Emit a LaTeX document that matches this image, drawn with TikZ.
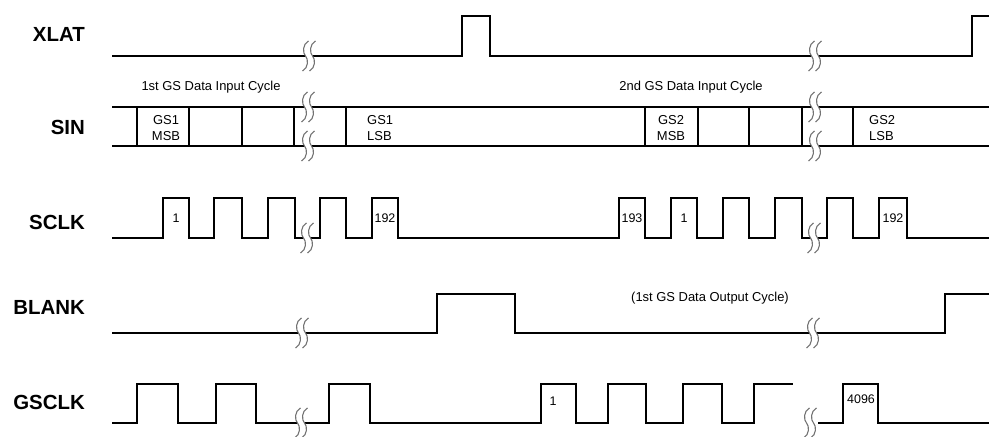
\documentclass[tikz,border=0pt]{standalone}
\usepackage{fontspec}
\setmainfont{Liberation Sans}

\begin{document}
\begin{tikzpicture}[
    x=1bp, y=-1bp,
    signame/.style={anchor=east, inner sep=0pt, font=\fontsize{20.5}{24}\selectfont\bfseries},
    note/.style={inner sep=0pt, font=\fontsize{13}{15}\selectfont},
    bits/.style={inner sep=0pt, font=\fontsize{13}{16}\selectfont, align=center},
    count/.style={inner sep=0pt, font=\fontsize{12.5}{14}\selectfont},
    wave/.style={line width=2.6bp, line join=miter},
    brk/.pic={
      \fill[white] (-0.5,-15) .. controls (-6.5,-12) and (-6.5,-3) .. (-3.5,0)
          .. controls (-0.5,3) and (-0.5,12) .. (-6.5,15) -- (0.5,15)
          .. controls (6.5,12) and (6.5,3) .. (3.5,0)
          .. controls (0.5,-3) and (0.5,-12) .. (6.5,-15) -- cycle;
      \draw[line width=1.1bp, black!55] (-0.5,-15) .. controls (-6.5,-12) and (-6.5,-3) .. (-3.5,0)
          .. controls (-0.5,3) and (-0.5,12) .. (-6.5,15);
      \draw[line width=1.1bp, black!55] (6.5,-15) .. controls (0.5,-12) and (0.5,-3) .. (3.5,0)
          .. controls (6.5,3) and (6.5,12) .. (0.5,15);
    }
  ]
    \useasboundingbox (0,0) rectangle (989,437);

    % signal names
    \node[signame] (xlat) at (85,34) {XLAT};
    \node[signame] (sin) at (85,127) {SIN};
    \node[signame] (sclk) at (85,222) {SCLK};
    \node[signame] (blank) at (85,307) {BLANK};
    \node[signame] (gsclk) at (85,402) {GSCLK};

    % XLAT
    \draw[wave] (112,56) -- (462,56) -- (462,16) -- (490,16) -- (490,56) -- (972,56) -- (972,16) -- (989,16);
    \pic at (309,56) {brk};
    \pic at (815,56) {brk};

    % SIN
    \node[note] (cyc1) at (211,87) {1st GS Data Input Cycle};
    \node[note] (cyc2) at (691,87) {2nd GS Data Input Cycle};
    \draw[wave] (112,107) -- (989,107);
    \draw[wave] (112,146) -- (989,146);
    \draw[wave] (137,107) -- (137,146) (189,107) -- (189,146) (242,107) -- (242,146)
      (294,107) -- (294,146) (346,107) -- (346,146) (645,107) -- (645,146)
      (698,107) -- (698,146) (749,107) -- (749,146) (802,107) -- (802,146)
      (853,107) -- (853,146);
    \pic at (308,107) {brk};
    \pic at (308,146) {brk};
    \pic at (815,107) {brk};
    \pic at (815,146) {brk};
    \node[bits] (gs1msb) at (166,128) {GS1\\MSB};
    \node[bits, anchor=west, align=left] (gs1lsb) at (367,128) {GS1\\LSB};
    \node[bits] (gs2msb) at (671,128) {GS2\\MSB};
    \node[bits, anchor=west, align=left] (gs2lsb) at (869,128) {GS2\\LSB};

    % SCLK
    \draw[wave] (112,238) -- (163,238) -- (163,198) -- (189,198) -- (189,238) -- (214,238)
      -- (214,198) -- (242,198) -- (242,238) -- (268,238) -- (268,198) -- (295,198)
      -- (295,238) -- (320,238) -- (320,198) -- (346,198) -- (346,238) -- (372,238)
      -- (372,198) -- (398,198) -- (398,238) -- (619,238) -- (619,198) -- (645,198)
      -- (645,238) -- (671,238) -- (671,198) -- (697,198) -- (697,238) -- (723,238)
      -- (723,198) -- (749,198) -- (749,238) -- (775,238) -- (775,198) -- (802,198)
      -- (802,238) -- (827,238) -- (827,198) -- (853,198) -- (853,238) -- (879,238)
      -- (879,198) -- (907,198) -- (907,238) -- (989,238);
    \pic at (307,238) {brk};
    \pic at (814,238) {brk};
    \node[count] (sc1) at (176,218) {1};
    \node[count] (sc192) at (385,218) {192};
    \node[count] (sc193) at (632,218) {193};
    \node[count] (sc1b) at (684,218) {1};
    \node[count] (sc192b) at (893,218) {192};

    % BLANK
    \draw[wave] (112,333) -- (437,333) -- (437,294) -- (515,294) -- (515,333) -- (945,333) -- (945,294) -- (989,294);
    \pic at (302,333) {brk};
    \pic at (813,333) {brk};
    \node[note] (outcyc) at (710,298) {(1st GS Data Output Cycle)};

    % GSCLK
    \draw[wave] (112,423) -- (137,423) -- (137,384) -- (178,384) -- (178,423) -- (216,423)
      -- (216,384) -- (256,384) -- (256,423) -- (329,423) -- (329,384) -- (370,384)
      -- (370,423) -- (541,423) -- (541,384) -- (576,384) -- (576,423) -- (608,423)
      -- (608,384) -- (646,384) -- (646,423) -- (683,423) -- (683,384) -- (722,384)
      -- (722,423) -- (754,423) -- (754,384) -- (793,384);
    \draw[wave] (818,423) -- (843,423) -- (843,384) -- (878,384) -- (878,423) -- (989,423);
    \pic at (301,423) {brk};
    \pic at (810,423) {brk};
    \node[count] (gc1) at (553,401) {1};
    \node[count] (gc4096) at (861,399) {4096};
  \end{tikzpicture}
\end{document}
